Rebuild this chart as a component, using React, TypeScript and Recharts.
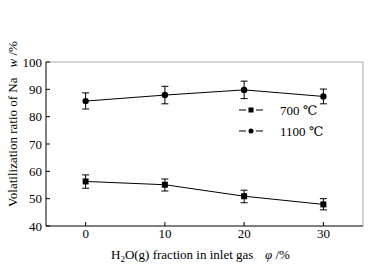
import { LineChart, Line, XAxis, YAxis, ErrorBar, ReferenceLine, Legend, Label } from 'recharts';

const fractions = [0, 10, 20, 30];
const na700 = [56.3, 55.1, 50.9, 47.9];
const err700: [number, number][] = [[2.5, 2.4], [2.3, 2.1], [2.4, 2.2], [2.0, 2.1]];
const na1100 = [85.7, 87.9, 89.8, 87.4];
const err1100: [number, number][] = [[2.9, 3.0], [3.2, 3.2], [3.2, 3.2], [2.7, 2.7]];
const xTicks = [0, 10, 20, 30];
const yTicks = [40, 50, 60, 70, 80, 90, 100];

const data = fractions.map((f, i) => ({
  f,
  t700: na700[i],
  e700: err700[i],
  t1100: na1100[i],
  e1100: err1100[i],
}));

const FONT = 'Liberation Serif, Times New Roman, DejaVu Serif, serif';
const txt = { fontFamily: FONT, fontSize: 13 };

const Square = (props: any) => {
  const { cx, cy } = props;
  if (cx == null || cy == null) return null;
  return <rect x={cx - 3} y={cy - 3} width={6} height={6} fill="#000" />;
};

const Dot = (props: any) => {
  const { cx, cy } = props;
  if (cx == null || cy == null) return null;
  return <circle cx={cx} cy={cy} r={3.2} fill="#000" />;
};

const LegendBox = () => (
  <svg width={90} height={40} style={txt}>
    <line x1={1} x2={8} y1={8} y2={8} stroke="#000" />
    <rect x={10.5} y={5.5} width={5} height={5} fill="#000" />
    <line x1={18} x2={25} y1={8} y2={8} stroke="#000" />
    <text x={42} y={12.5} fill="#000" style={txt}>700 ℃</text>
    <line x1={1} x2={8} y1={29} y2={29} stroke="#000" />
    <circle cx={13} cy={29} r={2.5} fill="#000" />
    <line x1={18} x2={25} y1={29} y2={29} stroke="#000" />
    <text x={42} y={33.5} fill="#000" style={txt}>1100 ℃</text>
  </svg>
);

export default function App() {
  return (
    <div style={{ position: 'absolute', left: 0, top: 0, background: '#fff', fontFamily: FONT }}>
      <LineChart
        width={381}
        height={267}
        data={data}
        margin={{ top: 18, right: 18, left: 6, bottom: 15 }}
      >
        <XAxis
          dataKey="f"
          type="number"
          domain={[-5, 35]}
          ticks={xTicks}
          allowDataOverflow
          height={26}
          stroke="#000"
          tickSize={-4}
          tickMargin={7}
          tick={{ fill: '#000', style: txt }}
        >
          <Label
            content={() => (
              <text x={111} y={259} fill="#000" style={txt}>
                H<tspan fontSize={9} dy={3}>2</tspan><tspan dy={-3}>O(g) fraction in inlet gas</tspan>
                <tspan x={265} fontStyle="italic">φ</tspan>
                <tspan> /%</tspan>
              </text>
            )}
          />
        </XAxis>
        <YAxis
          type="number"
          domain={[40, 100]}
          ticks={yTicks}
          width={40}
          stroke="#000"
          tickSize={-4}
          tickMargin={8}
          tick={{ fill: '#000', style: txt }}
        >
          <Label
            content={() => (
              <text
                transform="translate(17, 124) rotate(-90)"
                textAnchor="middle"
                fill="#000"
                style={txt}
              >
                Volatilization ratio of Na
                <tspan dx={10} fontStyle="italic">w</tspan>
                <tspan> /%</tspan>
              </text>
            )}
          />
        </YAxis>
        <ReferenceLine y={100} stroke="#aaaaaa" />
        <ReferenceLine x={35} stroke="#aaaaaa" />
        <Legend
          verticalAlign="top"
          content={() => <LegendBox />}
          wrapperStyle={{ left: 238, top: 102, width: 90 }}
        />
        <Line
          dataKey="t1100"
          stroke="#000"
          strokeWidth={1}
          dot={<Dot />}
          isAnimationActive={false}
        >
          <ErrorBar dataKey="e1100" width={3.5} stroke="#000" strokeWidth={1} />
        </Line>
        <Line
          dataKey="t700"
          stroke="#000"
          strokeWidth={1}
          dot={<Square />}
          isAnimationActive={false}
        >
          <ErrorBar dataKey="e700" width={3.5} stroke="#000" strokeWidth={1} />
        </Line>
      </LineChart>
    </div>
  );
}
